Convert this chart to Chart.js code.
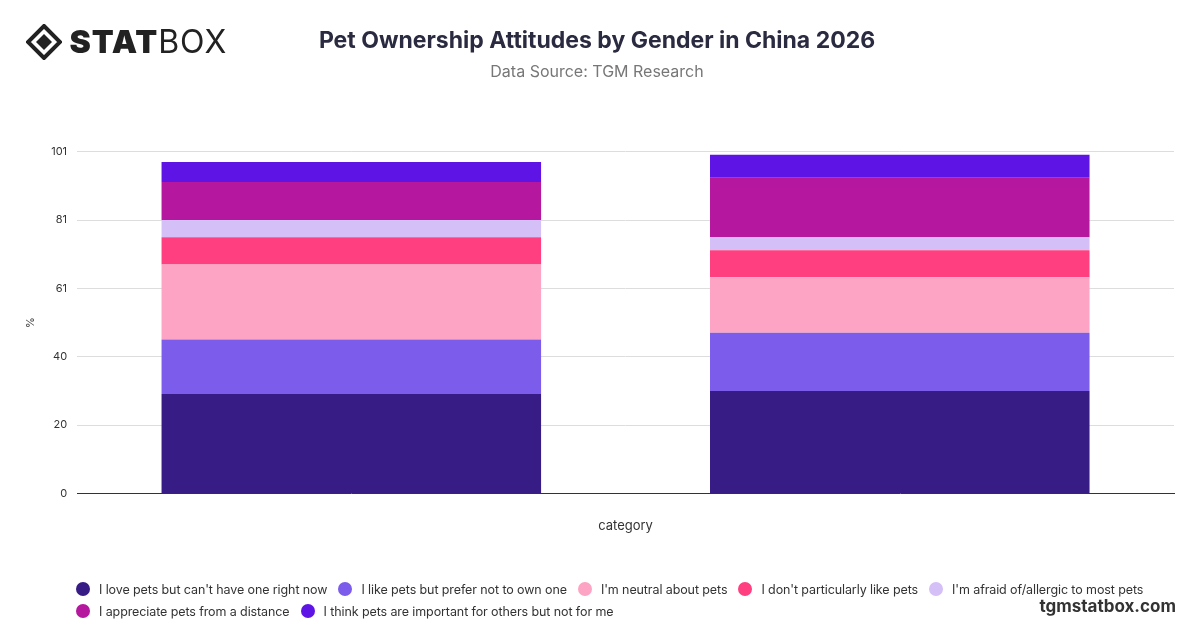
<!DOCTYPE html>
<html><head><meta charset="utf-8">
<script src="https://cdn.jsdelivr.net/npm/chart.js@4"></script>
<style>
body{margin:0;background:#fff;font-family:Inter,"Noto Sans",sans-serif}
#wrap{position:relative;width:1200px;height:628px}
#logo{position:absolute;left:26px;top:22px;font:900 32px Inter,sans-serif;color:#222;letter-spacing:1px;display:flex;align-items:center}
#logo span.l{font-weight:400}
#site{position:absolute;right:24px;bottom:12px;font:700 17px Inter,sans-serif;color:#333}
#legend{position:absolute;left:76px;top:581px;width:1100px;display:flex;flex-wrap:wrap;font:12.5px Inter,sans-serif;color:#333;row-gap:6px;letter-spacing:-0.1px}
#legend div{display:flex;align-items:center;margin-right:11px;height:16px}
#legend i{display:inline-block;width:14px;height:14px;border-radius:50%;margin-right:9px}
</style></head><body>
<div id="wrap">
<canvas id="c" width="1200" height="628"></canvas>
<div id="logo"><svg width="36" height="36" viewBox="0 0 36 36"><path d="M18 2 L34 18 L18 34 L2 18Z" fill="none" stroke="#222" stroke-width="4"/><path d="M18 10 L26 18 L18 26 L10 18Z" fill="#222"/></svg>&nbsp;STAT<span class="l">BOX</span></div>
<div id="legend"></div>
<div id="site">tgmstatbox.com</div>
</div>
<script>
const categories = ['', ''];
const seriesNames = ["I love pets but can't have one right now", "I like pets but prefer not to own one", "I'm neutral about pets", "I don't particularly like pets", "I'm afraid of/allergic to most pets", "I appreciate pets from a distance", "I think pets are important for others but not for me"];
const seriesValues = [
  [29.4, 30.3],
  [16.1, 17.2],
  [22.2, 16.4],
  [8.0, 8.0],
  [5.1, 3.9],
  [11.3, 17.5],
  [5.9, 6.8]
];
const colors = ['#371c85', '#7b5ceb', '#fda4c4', '#ff3f7f', '#d4bff7', '#b5179e', '#5f14e6'];

const chart = new Chart(document.getElementById('c'), {
  type: 'bar',
  data: {
    labels: categories,
    datasets: seriesNames.map((n, i) => ({
      label: n, data: seriesValues[i], backgroundColor: colors[i],
      categoryPercentage: 0.8, barPercentage: 0.865
    }))
  },
  options: {
    responsive: false, animation: false,
    layout: {padding: {left: 20, right: 26, top: 10, bottom: 0}},
    plugins: {
      title: {display: true, text: 'Pet Ownership Attitudes by Gender in China 2026', color: '#2a2a40', font: {family: 'Inter', size: 23, weight: 'bold'}, padding: {top: 17, bottom: 8}},
      subtitle: {display: true, text: 'Data Source: TGM Research', color: '#777', font: {family: 'Inter', size: 16}, padding: {bottom: 70}},
      legend: {display: false},
      tooltip: {enabled: false}
    },
    scales: {
      x: {stacked: true, grid: {display: false}, border: {color: '#333'}, ticks: {display: false},
          title: {display: true, text: 'category', color: '#333', font: {family: 'Inter', size: 13}, padding: {top: 17, bottom: 94}}},
      y: {stacked: true, min: 0, max: 101, afterBuildTicks: a => { a.ticks = [0,1,2,3,4,5].map(k => ({value: k * 20.2})); },
          ticks: {callback: v => Math.round(v), color: '#333', font: {family: 'Inter', size: 11}, padding: 10},
          grid: {color: '#ddd', drawTicks: false}, border: {display: false},
          title: {display: true, text: '%', color: '#333', font: {family: 'Inter', size: 11}}}
    }
  }
});
const lg = document.getElementById('legend');
chart.data.datasets.forEach(d => {
  const el = document.createElement('div');
  el.innerHTML = '<i style="background:' + d.backgroundColor + '"></i>' + d.label;
  lg.appendChild(el);
});
</script>
</body></html>
